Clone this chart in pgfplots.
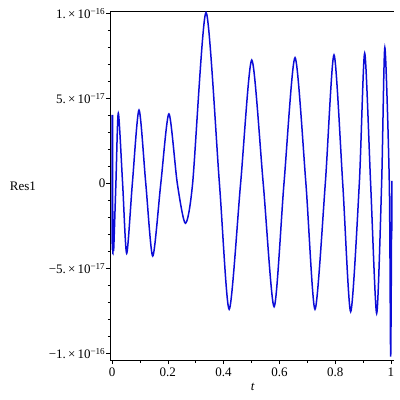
\documentclass[border=0pt]{standalone}
\usepackage{fontspec}
\setmainfont{Liberation Serif}
\usepackage{pgfplots}
\pgfplotsset{compat=1.18}
\usetikzlibrary{calc}
\definecolor{maplblue}{RGB}{12,12,215}

\begin{document}
\begin{tikzpicture}
\begin{axis}[
  scale only axis, width=283.5pt, height=348.7pt,
  xmin=-0.0054, xmax=1.0108, ymin=-1.0394e-16, ymax=1.0118e-16,
  axis lines*=left, clip=true,
  scaled y ticks=false, scaled x ticks=false,
  tick align=outside, tick pos=left,
  major tick length=4pt, minor tick length=2.5pt,
  every tick/.style={black, line width=0.6pt},
  axis line style={line width=0.8pt},
  xtick={0,0.2,0.4,0.6,0.8,1}, minor x tick num=1,
  xticklabels={0,0.2,0.4,0.6,0.8,1},
  ytick={-1e-16,-5e-17,0,5e-17,1e-16}, minor y tick num=4,
  yticklabels={−1.\,×\,10\textsuperscript{−16},
               −5.\,×\,10\textsuperscript{−17},
               0,
               5.\,×\,10\textsuperscript{−17},
               1.\,×\,10\textsuperscript{−16}},
  /pgf/number format/assume math mode=true,
  tick label style={font=\fontsize{13}{15}\selectfont},
  yticklabel style={inner sep=1pt},
  xlabel={\textit{t}}, ylabel={Res1},
  xlabel style={at={(axis description cs:0.502,0)}, yshift=-27pt, anchor=center, font=\fontsize{13}{15}\selectfont},
  ylabel style={at={(axis description cs:-0.309,0.497)}, rotate=-90, anchor=center, font=\fontsize{13}{15}\selectfont},
]
% top and right frame
\draw[line width=0.8pt] (rel axis cs:0,1) -- (rel axis cs:1,1) -- (rel axis cs:1,0);
\addplot[maplblue, line width=1.5pt, smooth, tension=0.45] coordinates {
  (0.0000, 4.02e-17) (0.0010,-3.92e-17) (0.0020, 4.02e-17) (0.0030,-3.92e-17)
  (0.0045,-2.92e-17) (0.0060,-3.92e-17)
  (0.0140, 0.0) (0.0226, 4.12e-17) (0.0380, 0.0) (0.0526,-4.12e-17)
  (0.0730, 0.0) (0.0968, 4.31e-17) (0.1210, 0.0) (0.1460,-4.28e-17)
  (0.1750, 0.0) (0.2040, 4.08e-17) (0.2340, 0.0) (0.2630,-2.35e-17)
  (0.2890, 0.0) (0.3370, 1.005e-16) (0.3850, 0.0) (0.4200,-7.41e-17)
  (0.4610, 0.0) (0.5010, 7.25e-17) (0.5420, 0.0) (0.5810,-7.26e-17)
  (0.6165, 0.0) (0.6560, 7.39e-17) (0.6950, 0.0) (0.7276,-7.41e-17)
  (0.7646, 0.0) (0.7957, 7.55e-17) (0.8270, 0.0) (0.8555,-7.55e-17)
  (0.8865, 0.0) (0.9057, 7.65e-17) (0.9270, 0.0) (0.9487,-7.65e-17)
  (0.9665, 0.0) (0.9780, 7.98e-17) (0.9940, 0.0) (0.9989,-1.02e-16)
  (1.0030, 0.0) (1.0036,-2.8e-17)
};
\end{axis}
\path (current axis.south west) ++(-110.5pt,-40pt) rectangle ($(current axis.north east)+(6pt,11.3pt)$);
\end{tikzpicture}
\end{document}
